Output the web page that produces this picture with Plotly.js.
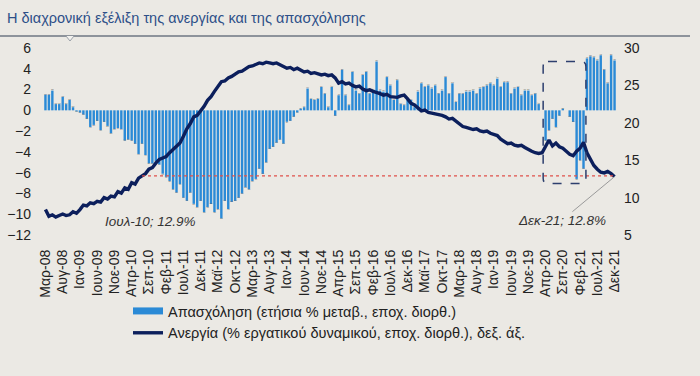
<!DOCTYPE html>
<html>
<head>
<meta charset="utf-8">
<script src="https://cdn.plot.ly/plotly-3.0.1.min.js"></script>
<style>html,body{margin:0;padding:0;background:#ebe9e4;}#chart{width:700px;height:376px;}</style>
</head>
<body>
<div id="chart"></div>
<script>
// Month names (Greek) used for category labels
const monthNames = ['Ιαν','Φεβ','Μαρ','Απρ','Μαϊ','Ιουν','Ιουλ','Αυγ','Σεπ','Οκτ','Νοε','Δεκ'];
// Categories: Mar-08 .. Dec-21 (monthly)
const categories = [];
for (let y = 2008; y <= 2021; y++) {
  for (let m = 0; m < 12; m++) {
    if (y === 2008 && m < 2) continue;
    categories.push(monthNames[m] + '-' + String(y % 100).padStart(2, '0'));
  }
}
// Employment, annual % change, s.a. (left axis)
const employment = [
  1.5, 1.5, 1.9, 0.6, 0.6, 1.3, 0.6, 1.0, 0.3, -0.1,
  -0.2, -0.4, -0.8, -1.6, -1.4, -1.0, -1.9, -1.1, -1.5, -2.2,
  -1.8, -1.7, -1.8, -2.9, -2.8, -2.9, -3.2, -4.2, -3.2, -4.3,
  -5.1, -5.1, -4.9, -5.2, -6.1, -6.4, -6.8, -7.6, -7.9, -7.1,
  -8.4, -8.7, -7.9, -9.0, -9.3, -8.7, -9.8, -9.3, -9.0, -9.8,
  -9.5, -10.4, -8.7, -9.5, -8.8, -8.7, -8.4, -8.0, -7.4, -7.6,
  -6.8, -6.6, -5.6, -6.1, -5.0, -3.7, -3.5, -3.1, -2.8, -3.2,
  -1.1, -1.0, -0.6, -0.2, 0.15, 0.3, 2.1, 1.1, 1.0, 1.1,
  2.25, 1.6, 0.3, 2.25, -0.5, 1.45, 3.9, 1.45, 0.5, 3.7,
  1.9, 1.6, 3.4, 3.7, 1.6, 1.9, 4.7, 1.9, 1.8, 3.2,
  2.4, 1.0, 2.9, 0.6, 0.5, 1.0, 1.0, 0.3, 1.8, 2.6,
  2.25, 2.4, 2.1, 2.4, 1.6, 1.9, 3.2, 1.6, 2.6, 0.8,
  1.6, 1.6, 1.8, 1.8, 1.9, 1.6, 2.1, 2.25, 2.4, 2.6,
  2.4, 3.05, 2.25, 2.7, 2.7, 1.6, 2.1, 2.25, 1.45, 1.9,
  1.9, 1.45, 1.6, 0.6, 0.0, -2.9, -1.9, -0.8, -1.6, -0.5,
  0.15, 0.0, -0.6, -1.1, -6.6, -4.8, -5.6, 5.0, 5.2, 5.1,
  4.8, 5.3, 3.9, 2.6, 5.3, 4.8
];
// Unemployment, % of labour force, s.a. (right axis)
const unemployment = [
  8.4, 7.5, 7.7, 7.4, 7.6, 7.8, 7.6, 7.7, 8.1, 7.9,
  8.4, 9.0, 8.9, 9.3, 9.2, 9.5, 9.4, 10.0, 9.8, 10.2,
  10.1, 10.8, 10.6, 11.3, 11.1, 12.0, 11.8, 12.6, 12.9, 13.2,
  13.8, 14.0, 14.6, 15.1, 15.3, 15.5, 16.0, 16.4, 16.9, 17.3,
  18.2, 19.2, 19.9, 20.8, 21.0, 21.6, 22.2, 23.0, 23.5, 24.2,
  24.8, 25.5, 25.6, 26.0, 26.2, 26.5, 26.8, 26.9, 27.2, 27.5,
  27.6, 27.8, 28.0, 27.9, 28.1, 28.0, 27.9, 28.0, 27.8, 27.6,
  27.3, 27.4, 27.1, 27.3, 27.0, 26.8, 26.9, 26.6, 26.7, 26.5,
  26.4, 26.5, 26.3, 26.4, 26.0, 25.3, 25.5, 25.2, 25.3, 25.0,
  24.8, 24.9, 24.5, 24.3, 24.4, 24.2, 24.1, 23.9, 23.7, 23.8,
  23.5, 23.5, 23.4, 23.6, 23.7, 23.2, 22.6, 22.4, 22.0, 21.6,
  21.7, 21.4, 21.3, 21.2, 21.2, 21.0, 20.8, 20.5, 20.6, 20.2,
  19.9, 19.5, 19.4, 19.3, 19.1, 19.2, 18.9, 18.8, 18.9, 18.6,
  18.5, 18.3, 17.8, 17.5, 17.2, 17.3, 17.0, 16.9, 17.0, 16.7,
  16.4, 16.2, 16.0, 15.9, 16.0, 16.9, 17.7, 16.9, 17.3, 16.8,
  16.6, 16.2, 15.8, 15.6, 16.2, 16.6, 17.4, 16.0, 15.2, 14.3,
  13.8, 13.4, 13.3, 13.5, 13.2, 12.8
];
const seriesNames = ['Απασχόληση (ετήσια % μεταβ., εποχ. διορθ.)', 'Ανεργία (% εργατικού δυναμικού, εποχ. διορθ.), δεξ. άξ.'];
const titleText = 'Η διαχρονική εξέλιξη της ανεργίας και της απασχόλησης';
const tickStep = 5;

const idx = categories.map((_, i) => i);
const tickvals = idx.filter(i => i % tickStep === 0);
const ticktext = tickvals.map(i => categories[i]);
const iJul10 = categories.indexOf('Ιουλ-10');
const iDec21 = categories.indexOf('Δεκ-21');

const barColor = '#2b8ad6';
const lineColor = '#0c1f5c';
const font = 'Liberation Sans, Arial, sans-serif';

const traces = [
  {type: 'bar', x: idx, y: employment, text: categories, hoverinfo: 'text+y', marker: {color: barColor}, yaxis: 'y', showlegend: false, name: seriesNames[0]},
  {type: 'scatter', mode: 'lines', x: [null], y: [null], line: {color: barColor, width: 7}, name: seriesNames[0], yaxis: 'y', hoverinfo: 'skip'},
  {type: 'scatter', mode: 'lines', x: idx, y: unemployment, text: categories, line: {color: lineColor, width: 3.4}, name: seriesNames[1], yaxis: 'y2'}
];

// pixel -> paper helpers for decorative header elements
const L = 42, Rm = 82, T = 48, B = 141, W = 700, H = 376;
const pw = W - L - Rm, ph = H - T - B;
const px = v => (v - L) / pw;
const py = v => (H - B - v) / ph;

// rounded dashed box around the pandemic period
const bx0 = 144.3, bx1 = 156.7, by0 = 11.9, by1 = 28.2, rx = 1.4, ry = 0.7;
const boxPath = `M ${bx0+rx},${by1} L ${bx1-rx},${by1} Q ${bx1},${by1} ${bx1},${by1-ry} L ${bx1},${by0+ry} Q ${bx1},${by0} ${bx1-rx},${by0} L ${bx0+rx},${by0} Q ${bx0},${by0} ${bx0},${by0+ry} L ${bx0},${by1-ry} Q ${bx0},${by1} ${bx0+rx},${by1} Z`;

const layout = {
  width: W, height: H,
  paper_bgcolor: '#ebe9e4', plot_bgcolor: '#ebe9e4',
  margin: {l: L, r: Rm, t: T, b: B, pad: 0},
  bargap: 0.3,
  font: {family: font, size: 14, color: '#222'},
  title: {text: titleText, x: 0.01, xref: 'container', xanchor: 'left', y: 1 - 18 / H, yref: 'container', yanchor: 'middle', font: {family: font, size: 14.5, color: '#2d4f88'}},
  xaxis: {range: [-1, 166], tickvals: tickvals, ticktext: ticktext, tickangle: -90, showgrid: false, zeroline: false, showline: false, ticks: '', ticklabelstandoff: 11, tickfont: {size: 14, color: '#222'}},
  yaxis: {range: [-12, 6], dtick: 2, showgrid: false, zeroline: false, showline: false, ticks: '', ticklabelstandoff: 10, tickfont: {size: 14, color: '#222'}},
  yaxis2: {range: [5, 30], dtick: 5, overlaying: 'y', side: 'right', showgrid: false, zeroline: false, showline: false, ticks: '', ticklabelstandoff: 5, tickfont: {size: 14, color: '#222'}},
  legend: {x: px(128), xanchor: 'left', y: py(295), yanchor: 'top', bgcolor: 'rgba(0,0,0,0)', font: {size: 14.5, color: '#222'}, tracegroupgap: 0, itemwidth: 30},
  shapes: [
    {type: 'line', xref: 'paper', yref: 'paper', x0: px(0), x1: px(690), y0: py(36), y1: py(36), line: {color: '#8d939b', width: 2}},
    {type: 'path', xref: 'paper', yref: 'paper', path: `M ${px(66)},${py(36)} L ${px(70)},${py(41)} L ${px(74)},${py(36)}`, line: {color: '#9aa0a8', width: 1}, fillcolor: '#f2f1ee'},
    {type: 'line', xref: 'x', yref: 'y2', x0: iJul10, x1: iDec21, y0: unemployment[iJul10], y1: unemployment[iJul10], line: {color: '#e0504a', width: 1.2, dash: 'dot'}, layer: 'above'},
    {type: 'path', xref: 'x', yref: 'y2', path: boxPath, line: {color: '#2d3f6e', width: 1.5, dash: 'dash'}, layer: 'above'}
  ],
  annotations: [
    {x: iJul10, y: unemployment[iJul10], xref: 'x', yref: 'y2', text: '<i>' + categories[iJul10] + '; ' + unemployment[iJul10].toFixed(1) + '%</i>', showarrow: true, arrowhead: 0, arrowwidth: 1, arrowcolor: '#9a9a9a', ax: 8, ay: 46, font: {size: 13.5, color: '#333'}},
    {x: iDec21, y: unemployment[iDec21], xref: 'x', yref: 'y2', text: '<i>' + categories[iDec21] + '; ' + unemployment[iDec21].toFixed(1) + '%</i>', showarrow: true, arrowhead: 0, arrowwidth: 1, arrowcolor: '#9a9a9a', ax: -53, ay: 44, font: {size: 13.5, color: '#333'}}
  ]
};

Plotly.newPlot('chart', traces, layout, {displayModeBar: false, staticPlot: true});
</script>
</body>
</html>
